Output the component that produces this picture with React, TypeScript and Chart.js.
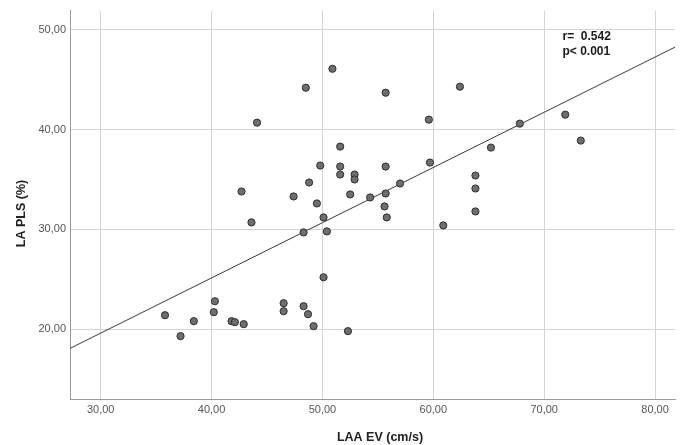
import React, { useEffect, useRef } from "react";
import { Chart, registerables } from "chart.js";

Chart.register(...registerables);

// LAA EV (cm/s)
const laaEV: number[] = [
  35.8, 37.2, 38.4, 40.2, 40.3, 41.8, 42.1, 42.9, 46.5, 46.5,
  48.3, 48.7, 49.2, 50.1, 52.3, 48.3, 50.4, 43.6, 42.7, 44.1,
  48.5, 50.9, 47.4, 48.8, 49.5, 49.8, 51.6, 51.6, 51.6, 52.9,
  52.9, 55.7, 59.7, 52.5, 54.3, 55.7, 57.0, 50.1, 55.6, 55.8,
  60.9, 63.8, 63.8, 63.8, 55.7, 62.4, 59.6, 67.8, 71.9, 73.3,
  65.2,
];
// LA PLS (%)
const laPLS: number[] = [
  21.4, 19.3, 20.8, 21.7, 22.8, 20.8, 20.7, 20.5, 22.6, 21.8,
  22.3, 21.5, 20.3, 25.2, 19.8, 29.7, 29.8, 30.7, 33.8, 40.7,
  44.2, 46.1, 33.3, 34.7, 32.6, 36.4, 38.3, 36.3, 35.5, 35.5,
  35.0, 36.3, 36.7, 33.5, 33.2, 33.6, 34.6, 31.2, 32.3, 31.2,
  30.4, 35.4, 34.1, 31.8, 43.7, 44.3, 41.0, 40.6, 41.5, 38.9,
  38.2,
];
// Fit line end points
const fitX: number[] = [27.23, 81.8];
const fitY: number[] = [18.07, 48.27];

const xTicks: number[] = [30, 40, 50, 60, 70, 80];
const yTicks: number[] = [20, 30, 40, 50];
const statLines: string[] = ["r=  0.542", "p< 0.001"];
const xTitle = "LAA EV (cm/s)";
const yTitle = "LA PLS (%)";

const fmt = (v: number) => v.toFixed(2).replace(".", ",");
const FONT = "'Liberation Sans', Arial, sans-serif";

export default function App() {
  const ref = useRef<HTMLCanvasElement | null>(null);

  useEffect(() => {
    document.body.style.margin = "0";
    const canvas = ref.current;
    if (!canvas) return;

    const textPlugin = {
      id: "textPlugin",
      afterDatasetsDraw(chart: any) {
        const { ctx, scales } = chart;
        const x = scales.x.getPixelForValue(71.65);
        const y0 = scales.y.getPixelForValue(49.27);
        ctx.save();
        ctx.font = `bold 12px ${FONT}`;
        ctx.fillStyle = "#1a1a1a";
        ctx.textAlign = "left";
        ctx.textBaseline = "middle";
        statLines.forEach((t, i) => ctx.fillText(t, x, y0 + i * 15));

        ctx.font = `bold 12.5px ${FONT}`;
        ctx.fillStyle = "#222";
        ctx.textAlign = "center";
        ctx.fillText(xTitle, 380, 437.5);
        ctx.translate(22, 213.5);
        ctx.rotate(-Math.PI / 2);
        ctx.fillText(yTitle, 0, 0);
        ctx.restore();
      },
    };

    const chart = new Chart(canvas, {
      type: "scatter",
      data: {
        datasets: [
          {
            type: "line",
            data: fitX.map((x, i) => ({ x, y: fitY[i] })),
            borderColor: "#3a3a3a",
            borderWidth: 1,
            pointRadius: 0,
            fill: false,
            order: 2,
          } as any,
          {
            type: "scatter",
            data: laaEV.map((x, i) => ({ x, y: laPLS[i] })),
            backgroundColor: "#6e6e6e",
            borderColor: "#2e2e2e",
            borderWidth: 1,
            pointRadius: 3.6,
            order: 1,
          },
        ],
      },
      options: {
        animation: false,
        responsive: false,
        maintainAspectRatio: false,
        layout: { padding: { left: 0, right: 4, top: 10, bottom: 0 } },
        plugins: {
          legend: { display: false },
          tooltip: { enabled: false },
        },
        scales: {
          x: {
            type: "linear",
            min: 27.23,
            max: 81.8,
            afterBuildTicks: (s: any) => {
              s.ticks = xTicks.map((v) => ({ value: v }));
            },
            afterFit: (s: any) => {
              s.height = 46;
            },
            ticks: {
              callback: (v: any) => fmt(Number(v)),
              color: "#555",
              font: { family: FONT, size: 11 },
              padding: 4,
              maxRotation: 0,
            },
            grid: { color: "#d4d4d4", lineWidth: 1, drawTicks: false },
            border: { color: "#9a9a9a", width: 1 },
          },
          y: {
            type: "linear",
            min: 13.0,
            max: 51.93,
            afterBuildTicks: (s: any) => {
              s.ticks = yTicks.map((v) => ({ value: v }));
            },
            afterFit: (s: any) => {
              s.width = 70;
            },
            ticks: {
              callback: (v: any) => fmt(Number(v)),
              color: "#555",
              font: { family: FONT, size: 11 },
              padding: 4,
            },
            grid: { color: "#d4d4d4", lineWidth: 1, drawTicks: false },
            border: { color: "#9a9a9a", width: 1 },
          },
        },
      },
      plugins: [textPlugin],
    });

    return () => chart.destroy();
  }, []);

  return (
    <div style={{ position: "fixed", left: 0, top: 0, width: 680, height: 445, background: "#fff" }}>
      <canvas ref={ref} width={680} height={445} style={{ display: "block" }} />
    </div>
  );
}
